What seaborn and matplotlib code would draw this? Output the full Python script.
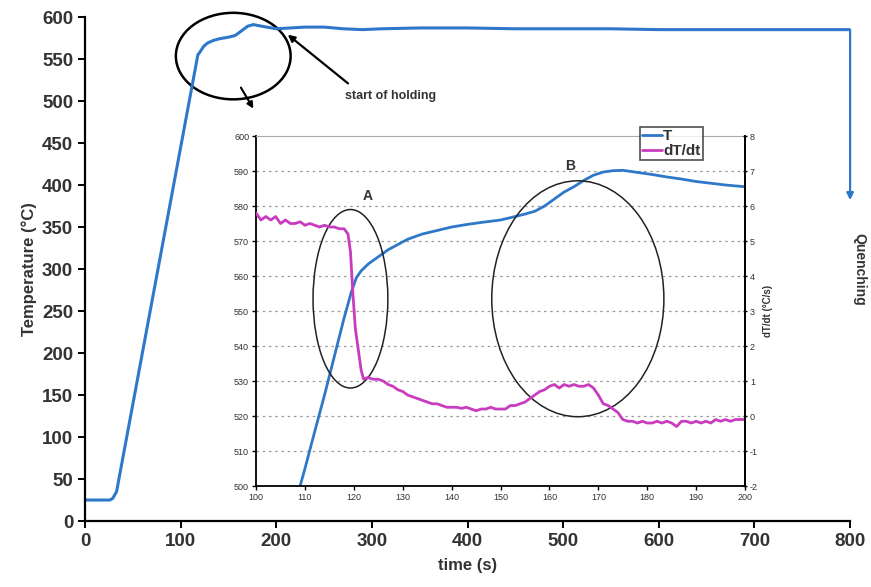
import matplotlib
matplotlib.use("Agg")
import matplotlib.pyplot as plt
from matplotlib.patches import Ellipse
from matplotlib.lines import Line2D
import seaborn as sns
import pandas as pd

# ---------------- data ----------------
main_time = [0, 26, 29, 33, 118, 120, 124, 128, 134, 140, 150, 157, 163, 170, 176, 185, 200,
             215, 230, 250, 270, 290, 310, 350, 400, 450, 500, 550, 600, 640, 680, 720, 800]
main_temp = [25, 25, 27, 35, 555, 558, 565, 569, 572, 574, 576, 578, 583, 589, 591, 589, 586,
             587, 588, 588, 586, 585, 586, 587, 587, 586, 586, 586, 585, 585, 585, 585, 585]
quench_end_temp = 382

inset_time_T = [109, 110, 112, 114, 116, 118, 119.5, 120.5, 121.5, 123, 125, 127, 129, 131, 134,
                137, 140, 143, 146, 150, 153, 155, 157, 159, 161, 163, 165, 167, 169, 171, 173,
                175, 178, 181, 184, 187, 190, 193, 196, 200]
inset_T = [500, 505, 515.6, 526, 537, 548, 555.5, 559.5, 561.5, 563.5, 565.5, 567.5, 569, 570.5, 572,
           573, 574, 574.7, 575.3, 576, 577, 577.7, 578.5, 580, 582, 584, 585.5, 587.3, 588.8, 589.7, 590.1,
           590.2, 589.6, 589, 588.3, 587.7, 587, 586.5, 586, 585.5]

inset_time_d = [100, 101, 102, 103, 104, 105, 106, 107, 108, 109, 110, 111, 112, 113, 114, 115, 116,
                117, 118, 118.8, 119.3, 119.8, 120.3, 120.8, 121.5, 122, 122.8, 124, 125, 126, 127,
                128, 129, 130, 131, 132, 133, 134, 135, 136, 137, 138, 139, 140, 141, 142, 143, 144,
                145, 146, 147, 148, 149, 150, 151, 152, 153, 154, 155, 156, 157, 158, 159, 160, 161,
                162, 163, 164, 165, 166, 167, 168, 169, 170, 171, 172, 173, 174, 175, 176, 177, 178,
                179, 180, 181, 182, 183, 184, 185, 186, 187, 188, 189, 190, 191, 192, 193, 194, 195,
                196, 197, 198, 199, 200]
inset_dTdt = [5.8, 5.6, 5.7, 5.6, 5.7, 5.5, 5.6, 5.5, 5.5, 5.55, 5.45, 5.5, 5.45, 5.4, 5.45, 5.4, 5.4,
              5.35, 5.35, 5.2, 4.7, 3.5, 2.5, 2.0, 1.3, 1.05, 1.1, 1.05, 1.05, 1.0, 0.9,
              0.85, 0.75, 0.7, 0.6, 0.55, 0.5, 0.45, 0.4, 0.35, 0.35, 0.3, 0.25, 0.25, 0.25, 0.22, 0.25, 0.2,
              0.15, 0.2, 0.2, 0.25, 0.2, 0.2, 0.2, 0.3, 0.3, 0.35, 0.4, 0.5, 0.6, 0.7, 0.75, 0.85, 0.9,
              0.8, 0.9, 0.85, 0.9, 0.85, 0.85, 0.9, 0.8, 0.6, 0.35, 0.3, 0.2, 0.1, -0.1, -0.15, -0.15, -0.2,
              -0.15, -0.2, -0.2, -0.15, -0.2, -0.15, -0.2, -0.3, -0.15, -0.15, -0.2, -0.15, -0.2, -0.15, -0.2, -0.1, -0.15,
              -0.1, -0.15, -0.1, -0.1, -0.1]

main_xticks = [0, 100, 200, 300, 400, 500, 600, 700, 800]
main_yticks = [0, 50, 100, 150, 200, 250, 300, 350, 400, 450, 500, 550, 600]
inset_xticks = [100, 110, 120, 130, 140, 150, 160, 170, 180, 190, 200]
inset_yticks = [500, 510, 520, 530, 540, 550, 560, 570, 580, 590, 600]
inset_rticks = [-2, -1, 0, 1, 2, 3, 4, 5, 6, 7, 8]

BLUE = "#2f78c9"
MAGENTA = "#c93cbf"

sns.set_theme(style="white")
plt.rcParams["font.family"] = ["Liberation Sans", "DejaVu Sans"]
plt.rcParams["axes.unicode_minus"] = False

fig = plt.figure(figsize=(8.71, 5.87), dpi=100)

# ---------------- main axes ----------------
ax = fig.add_axes([0.0976, 0.1124, 0.8784, 0.8586])
df_main = pd.DataFrame({"time": main_time, "T": main_temp})
sns.lineplot(data=df_main, x="time", y="T", ax=ax, color=BLUE, lw=2.2, legend=False)
ax.set_xlim(0, 800)
ax.set_ylim(0, 600)
ax.set_xticks(main_xticks)
ax.set_yticks(main_yticks)
for s in ["top", "right"]:
    ax.spines[s].set_visible(False)
for s in ["left", "bottom"]:
    ax.spines[s].set_color("black")
    ax.spines[s].set_linewidth(1.6)
ax.tick_params(axis="both", which="major", labelsize=13.5, length=5, width=1.4, color="black",
               direction="out", left=True, bottom=True, labelcolor="#333333")
for lab in ax.get_xticklabels() + ax.get_yticklabels():
    lab.set_fontweight("bold")
ax.set_xlabel("time (s)", fontsize=12, fontweight="bold", color="#333333", labelpad=6)
ax.set_ylabel("Temperature (°C)", fontsize=12, fontweight="bold", color="#333333", labelpad=4)

# quenching arrow
ax.annotate("", xy=(800, quench_end_temp), xytext=(800, main_temp[-1]),
            arrowprops=dict(arrowstyle="-|>", color=BLUE, lw=1.6, mutation_scale=10, shrinkA=0, shrinkB=0))
ax.text(802, 300, "Quenching", rotation=-90, fontsize=10, fontweight="bold", color="#333333",
        ha="left", va="center", clip_on=False)

# ellipse & arrows in main
ax.add_patch(Ellipse((155, 553.5), 120, 103, fill=False, ec="black", lw=1.8, clip_on=False))
ax.annotate("", xy=(176, 491), xytext=(163, 516),
            arrowprops=dict(arrowstyle="-|>", color="black", lw=1.5, mutation_scale=9, shrinkA=0, shrinkB=0))
ax.annotate("", xy=(212, 579), xytext=(275, 521),
            arrowprops=dict(arrowstyle="-|>", color="black", lw=1.6, mutation_scale=10, shrinkA=0, shrinkB=0))
ax.text(272, 506, "start of holding", fontsize=9, fontweight="bold", color="#333333", ha="left", va="center")

# ---------------- inset ----------------
ins = fig.add_axes([0.294, 0.172, 0.5614, 0.5963])
ins.set_facecolor("white")
df_T = pd.DataFrame({"time": inset_time_T, "T": inset_T})
sns.lineplot(data=df_T, x="time", y="T", ax=ins, color=BLUE, lw=2.0, legend=False)
ins.set_xlim(100, 200)
ins.set_ylim(500, 600)
ins.set_xticks(inset_xticks)
ins.set_yticks(inset_yticks)
for y in inset_yticks[1:-1]:
    ins.axhline(y, color="#9a9a9a", lw=0.9, ls=(0, (2, 3)), zorder=0)
ins.spines["top"].set_color("#aaaaaa")
ins.spines["top"].set_linewidth(0.8)
for s in ["left", "bottom", "right"]:
    ins.spines[s].set_color("black")
    ins.spines[s].set_linewidth(1.3)
ins.tick_params(axis="both", labelsize=6.5, length=3, width=1.0, color="black", direction="out",
                left=True, bottom=True, labelcolor="#333333", pad=2)
ins.set_xlabel("")
ins.set_ylabel("")

rax = ins.twinx()
df_d = pd.DataFrame({"time": inset_time_d, "d": inset_dTdt})
sns.lineplot(data=df_d, x="time", y="d", ax=rax, color=MAGENTA, lw=2.0, legend=False)
rax.set_ylim(-2, 8)
rax.set_yticks(inset_rticks)
rax.set_xlim(100, 200)
rax.spines["right"].set_color("black")
rax.spines["right"].set_linewidth(1.3)
rax.spines["top"].set_visible(False)
rax.spines["left"].set_visible(False)
rax.spines["bottom"].set_visible(False)
rax.tick_params(axis="y", labelsize=6.5, length=3, width=1.0, color="black", direction="inout",
                right=True, labelcolor="#333333", pad=2)
rax.set_ylabel("dT/dt (°C/s)", fontsize=7, fontweight="bold", color="#333333", labelpad=4)

# ellipses A and B
ins.add_patch(Ellipse((119.3, 553.5), 15.3, 51, fill=False, ec="#222222", lw=1.1, zorder=5))
ins.add_patch(Ellipse((165.8, 553.5), 35.2, 67.4, fill=False, ec="#222222", lw=1.1, zorder=5))
ins.text(122.8, 583, "A", fontsize=10, fontweight="bold", color="#333333", ha="center", va="center")
ins.text(164.2, 591.4, "B", fontsize=10, fontweight="bold", color="#333333", ha="center", va="center")

# legend
handles = [Line2D([], [], color=BLUE, lw=2), Line2D([], [], color=MAGENTA, lw=2)]
leg = fig.legend(handles, ["T", "dT/dt"], loc="upper right", bbox_to_anchor=(0.807, 0.784),
                 frameon=True, fancybox=False, edgecolor="#222222",
                 prop=dict(weight="bold", size=11), handlelength=1.3, handletextpad=0.1,
                 borderpad=0.15, labelspacing=0.05, borderaxespad=0)
leg.get_frame().set_linewidth(1.2)
for t in leg.get_texts():
    t.set_color("#333333")

fig.savefig("out.png", dpi=100)
